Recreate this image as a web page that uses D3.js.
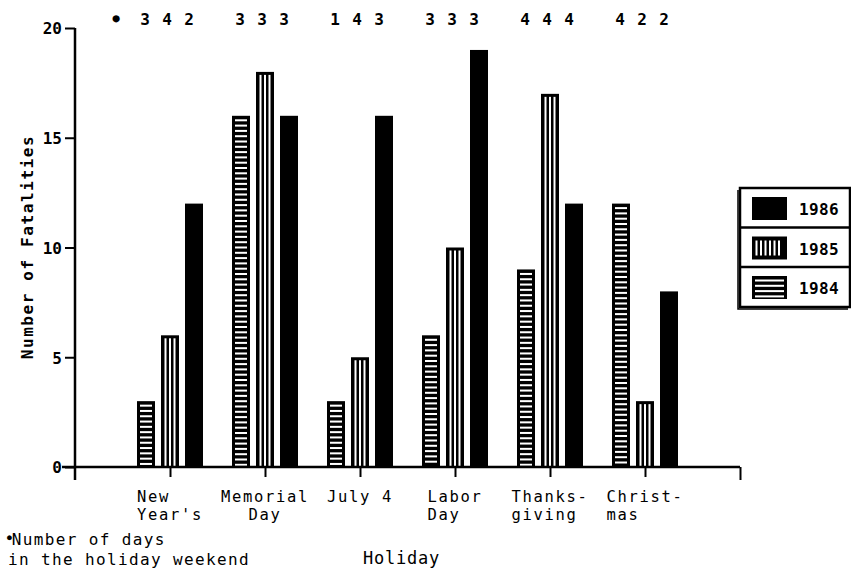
<!DOCTYPE html>
<html>
<head>
<meta charset="utf-8">
<script src="https://cdn.jsdelivr.net/npm/d3@7/dist/d3.min.js"></script>
<style>
  html, body { margin: 0; padding: 0; background: #fff; }
  svg { display: block; }
  text { font-family: "DejaVu Sans Mono", "Liberation Mono", monospace; fill: #000; }
</style>
</head>
<body>
<svg id="chart" width="851" height="573"></svg>
<script>
// Holiday traffic fatalities, 1984-1986
const holidays = [
  ["New   ", "Year's"],
  ["Memorial", "Day"],
  ["July 4"],
  ["Labor", "Day  "],
  ["Thanks-", "giving "],
  ["Christ-", "mas    "]
];
const years = ["1984", "1985", "1986"];
const fatalities1984 = [3, 16, 3, 6, 9, 12];
const fatalities1985 = [6, 18, 5, 10, 17, 3];
const fatalities1986 = [12, 16, 16, 19, 12, 8];
// days in each holiday weekend, per year
const weekendDays = [[3, 4, 2], [3, 3, 3], [1, 4, 3], [3, 3, 3], [4, 4, 4], [4, 2, 2]];
const yTicks = [0, 5, 10, 15, 20];

const series = { "1984": fatalities1984, "1985": fatalities1985, "1986": fatalities1986 };

const svg = d3.select("#chart");
const ADV = 11; // monospace character advance

const x = d3.scaleLinear().domain([0, 7]).range([75, 740]);
const y = d3.scaleLinear().domain([0, 20]).range([467, 28]);
const sub = d3.scaleBand().domain(years).range([-33, 33]).paddingInner(0.25);

// fill styles: solid, vertical stripes, horizontal stripes
function patternRect(g, px, py, w, h, year, swatch) {
  g.append("rect").attr("x", px).attr("y", py).attr("width", w).attr("height", h).attr("fill", "#000");
  if (year === "1985") {
    for (let cx = px + 4.5; cx < px + w - 3.5; cx += 4.5) {
      g.append("rect").attr("x", cx - 1).attr("y", py + (swatch ? 4 : 3))
        .attr("width", 2).attr("height", Math.max(0, h - (swatch ? 8 : 3))).attr("fill", "#fff");
    }
  } else if (year === "1984") {
    for (let cy = py + 3.5; cy < py + h - 3; cy += 5.3) {
      g.append("rect").attr("x", px + 3).attr("y", cy)
        .attr("width", w - 6).attr("height", 2).attr("fill", "#fff");
    }
  }
}

// bars
const bars = svg.append("g");
holidays.forEach((h, i) => {
  years.forEach(yr => {
    const v = series[yr][i];
    const bx = x(i + 1) + sub(yr);
    patternRect(bars, bx, y(v), sub.bandwidth(), y(0) - y(v), yr, false);
  });
});

// axes
const yAxis = d3.axisLeft(y).tickValues(yTicks).tickSize(10).tickSizeOuter(0).tickPadding(3);
const yg = svg.append("g").attr("transform", "translate(75,0)").call(yAxis);
yg.select(".domain").attr("stroke-width", 2.5).attr("d", `M0,${y(20)}V480`);
yg.selectAll(".tick line").attr("stroke-width", 2);
yg.selectAll(".tick text").attr("font-size", 16).attr("font-weight", "bold")
  .attr("font-family", "DejaVu Sans Mono").attr("dy", "0.36em");

const xAxis = d3.axisBottom(x).tickValues(d3.range(1, 8)).tickSize(10).tickSizeOuter(0).tickFormat("");
const xg = svg.append("g").attr("transform", `translate(0,${y(0)})`).call(xAxis);
xg.select(".domain").attr("stroke-width", 2.5).attr("d", `M62,0H${x(7)}`);
xg.selectAll(".tick line").attr("stroke-width", 2).attr("y2", d => d === 7 ? 13 : 10);

// category labels (monospace, each line centered on its padded width)
const LAB_FS = 15.5;
const lab = svg.append("g").attr("font-size", LAB_FS).attr("letter-spacing", (ADV - 0.602 * LAB_FS) + "px");
holidays.forEach((lines, i) => {
  lines.forEach((line, k) => {
    lab.append("text")
      .attr("x", x(i + 1) - line.length * ADV / 2)
      .attr("y", 502 + k * 18.3)
      .text(line.trimEnd());
  });
});

// days-in-weekend row across the top
const dayRow = svg.append("g").attr("font-size", 16).attr("font-weight", "bold").attr("text-anchor", "middle");
dayRow.append("text").attr("x", 116).attr("y", 22).attr("font-size", 12).text("●");
weekendDays.forEach((days, i) => {
  days.forEach((d, j) => {
    dayRow.append("text").attr("x", x(i + 1) - 3 + (j - 1) * 22).attr("y", 25).text(d);
  });
});

// axis titles
svg.append("text")
  .attr("transform", "translate(33,247) rotate(-90)")
  .attr("text-anchor", "middle").attr("font-size", 16).attr("font-weight", "bold")
  .attr("letter-spacing", "1.6px")
  .text("Number of Fatalities");

svg.append("text").attr("x", 363).attr("y", 564).attr("font-size", 17)
  .attr("letter-spacing", (ADV - 0.602 * 17) + "px").text("Holiday");

// footnote
const foot = svg.append("g").attr("font-size", 16).attr("letter-spacing", (ADV - 0.602 * 16) + "px");
const f1 = foot.append("text").attr("x", 7).attr("y", 545);
f1.append("tspan").attr("font-size", 8).attr("dy", -5).attr("letter-spacing", "0px").text("●");
f1.append("tspan").attr("dy", 5).text("Number of days");
foot.append("text").attr("x", 8).attr("y", 564.5).text("in the holiday weekend");

// legend
const leg = svg.append("g");
const legTop = 188, rowH = 40;
leg.append("rect").attr("x", 740).attr("y", legTop).attr("width", 110).attr("height", rowH * 3 - 1)
  .attr("fill", "none").attr("stroke", "#000").attr("stroke-width", 2.5);
leg.append("path").attr("d", `M738,${legTop + 2}V${legTop + rowH * 3 + 1}H848`)
  .attr("fill", "none").attr("stroke", "#000").attr("stroke-width", 1.5);
["1986", "1985", "1984"].forEach((yr, r) => {
  const ry = legTop + r * rowH - r * 0.5;
  if (r > 0) {
    leg.append("line").attr("x1", 740).attr("x2", 850).attr("y1", ry).attr("y2", ry)
      .attr("stroke", "#000").attr("stroke-width", 2.5);
  }
  patternRect(leg, 752, ry + 9, 35, 23, yr, true);
  leg.append("text").attr("x", 799).attr("y", ry + 27).attr("font-size", 16)
    .attr("font-weight", "bold").attr("letter-spacing", "0.4px").text(yr);
});
</script>
</body>
</html>
